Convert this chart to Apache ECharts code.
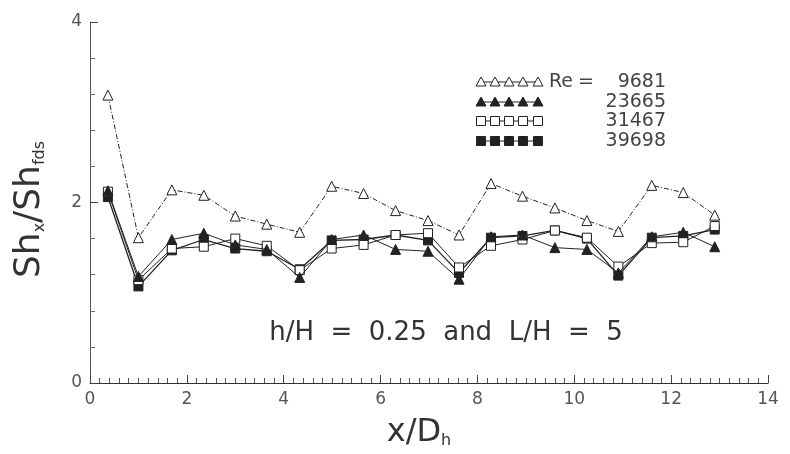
<!DOCTYPE html>
<html>
<head>
<meta charset="utf-8">
<script src="https://cdn.jsdelivr.net/npm/echarts@6/dist/echarts.min.js"></script>
<style>
  html, body { margin: 0; padding: 0; background: #fff; }
  #chart { width: 790px; height: 454px; }
</style>
</head>
<body>
<div id="chart"></div>
<script>
// x/Dh 位置
var xPos = [0.37, 1.0, 1.69, 2.35, 3.0, 3.65, 4.33, 4.99, 5.65, 6.31, 6.98, 7.62, 8.28, 8.93, 9.6, 10.26, 10.91, 11.6, 12.25, 12.9];
// Shx/Shfds 各雷诺数
var re9681  = [3.19, 1.61, 2.14, 2.08, 1.85, 1.76, 1.67, 2.18, 2.10, 1.91, 1.80, 1.64, 2.21, 2.07, 1.94, 1.80, 1.68, 2.19, 2.11, 1.86];
var re23665 = [2.13, 1.18, 1.59, 1.66, 1.53, 1.48, 1.17, 1.59, 1.64, 1.48, 1.46, 1.15, 1.62, 1.64, 1.50, 1.48, 1.22, 1.62, 1.67, 1.51];
var re31467 = [2.12, 1.14, 1.49, 1.51, 1.60, 1.52, 1.25, 1.49, 1.53, 1.64, 1.66, 1.28, 1.52, 1.59, 1.69, 1.61, 1.29, 1.55, 1.56, 1.74];
var re39698 = [2.06, 1.07, 1.47, 1.59, 1.49, 1.46, 1.26, 1.58, 1.59, 1.64, 1.58, 1.22, 1.61, 1.63, 1.69, 1.60, 1.19, 1.61, 1.63, 1.70];
var reNames = ['9681', '23665', '31467', '39698'];
var xTicks = [0, 2, 4, 6, 8, 10, 12, 14];
var yTicks = [0, 2, 4];

var FONT = 'DejaVu Sans';
var INK = '#222';

function pairs(ys) {
  return xPos.map(function (x, i) { return [x, ys[i]]; });
}

// 符号样式
var styles = [
  { symbol: 'triangle', fill: '#fff', size: 10, line: [5, 2, 1, 2], width: 1 },
  { symbol: 'triangle', fill: INK, size: 10, line: 'solid', width: 1 },
  { symbol: 'rect', fill: '#fff', size: 9, line: 'solid', width: 1 },
  { symbol: 'rect', fill: INK, size: 9, line: 'solid', width: 1.3 }
];
var allData = [re9681, re23665, re31467, re39698];

var series = allData.map(function (d, k) {
  var s = styles[k];
  return {
    name: reNames[k],
    type: 'line',
    data: pairs(d),
    symbol: s.symbol,
    symbolSize: s.size,
    showAllSymbol: true,
    z: 10 - k,
    lineStyle: { color: INK, width: s.width, type: s.line },
    itemStyle: { color: s.fill, borderColor: INK, borderWidth: 1 }
  };
});

// 图例（手绘）
var legendEls = [];
var lgX = [481, 495, 509, 523, 538];
var lgY = [82, 102, 121, 141];
var txtFont = '19px "' + FONT + '"';
lgY.forEach(function (y, k) {
  var s = styles[k];
  legendEls.push({
    type: 'line',
    shape: { x1: lgX[0], y1: y, x2: lgX[4], y2: y },
    style: { stroke: INK, lineWidth: 1 }
  });
  lgX.forEach(function (x) {
    if (s.symbol === 'triangle') {
      legendEls.push({
        type: 'polygon',
        shape: { points: [[x, y - 5], [x + 5, y + 4], [x - 5, y + 4]] },
        style: { fill: s.fill, stroke: INK, lineWidth: 1 }
      });
    } else {
      legendEls.push({
        type: 'rect',
        shape: { x: x - 4.5, y: y - 4.5, width: 9, height: 9 },
        style: { fill: s.fill, stroke: INK, lineWidth: 1 }
      });
    }
  });
  legendEls.push({
    type: 'text',
    x: 666, y: y,
    style: { text: reNames[k], align: 'right', verticalAlign: 'middle', font: txtFont, fill: '#444' }
  });
});
legendEls.push({
  type: 'text', x: 549, y: lgY[0],
  style: { text: 'Re', verticalAlign: 'middle', font: txtFont, fill: '#444' }
});
legendEls.push({
  type: 'text', x: 578, y: lgY[0],
  style: { text: '=', verticalAlign: 'middle', font: txtFont, fill: '#444' }
});
legendEls.push({
  type: 'text', x: 446, y: 333,
  style: {
    text: 'h/H  =  0.25  and  L/H  =  5', align: 'center', verticalAlign: 'middle',
    font: '26px "' + FONT + '"', fill: '#333'
  }
});

var chart = echarts.init(document.getElementById('chart'));
chart.setOption({
  backgroundColor: '#fff',
  animation: false,
  grid: { left: 90, right: 22, top: 22, bottom: 67 },
  xAxis: {
    type: 'value', min: 0, max: 14, interval: 2,
    name: 'x/D{s|h}', nameLocation: 'middle', nameGap: 34,
    nameTextStyle: {
      fontFamily: FONT, fontSize: 32, color: '#333', padding: [0, 20, 0, 0],
      rich: { s: { fontFamily: FONT, fontSize: 16, color: '#333', verticalAlign: 'bottom', padding: [16, 0, 0, 0] } }
    },
    axisLine: { lineStyle: { color: '#333', width: 1 } },
    axisTick: { inside: true, length: 8, lineStyle: { color: '#444' } },
    minorTick: { show: true, splitNumber: 10, length: 5, lineStyle: { color: '#555' } },
    splitLine: { show: false },
    axisLabel: {
      margin: 8, fontFamily: FONT, fontSize: 17, color: '#555',
      formatter: function (v) { return xTicks.indexOf(v) >= 0 ? String(v) : ''; }
    }
  },
  yAxis: {
    type: 'value', min: 0, max: 4, interval: 2,
    name: 'Sh{s|x}/Sh{s|fds}', nameLocation: 'middle', nameGap: 42, nameRotate: 90,
    nameTextStyle: {
      fontFamily: FONT, fontSize: 36, color: '#333', padding: [0, 14, 0, 0],
      rich: { s: { fontFamily: FONT, fontSize: 16, color: '#333', verticalAlign: 'bottom', padding: [16, 0, 0, 0] } }
    },
    axisLine: { lineStyle: { color: '#555', width: 1 } },
    axisTick: { inside: true, length: 8, lineStyle: { color: '#444' } },
    minorTick: { show: true, splitNumber: 5, length: 5, lineStyle: { color: '#666' } },
    splitLine: { show: false },
    axisLabel: {
      margin: 8, fontFamily: FONT, fontSize: 17, color: '#555',
      formatter: function (v) { return yTicks.indexOf(v) >= 0 ? String(v) : ''; }
    }
  },
  graphic: legendEls,
  series: series
});
</script>
</body>
</html>
